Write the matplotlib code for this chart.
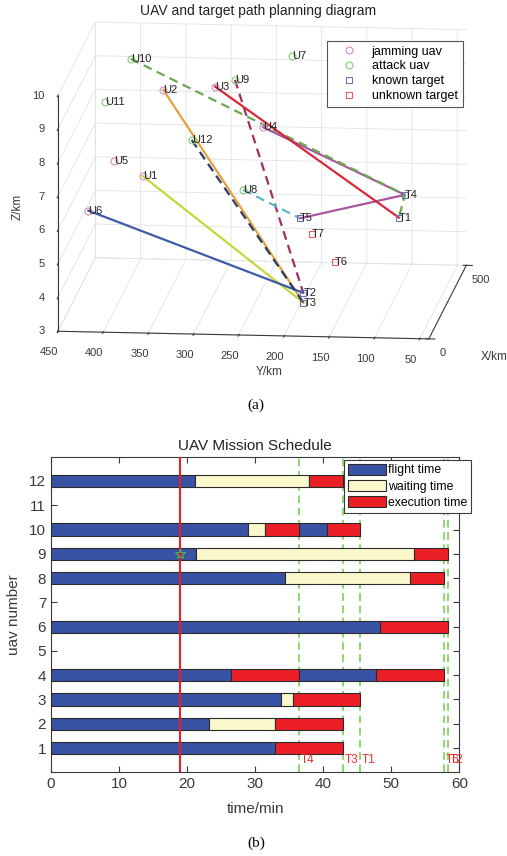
import numpy as np
import matplotlib
matplotlib.use('Agg')
import matplotlib.pyplot as plt
from matplotlib.patches import Patch
from matplotlib.lines import Line2D
from mpl_toolkits.mplot3d import proj3d

plt.rcParams['font.family'] = ['Liberation Sans', 'DejaVu Sans']
plt.rcParams['grid.color'] = '#e3e3e3'
plt.rcParams['grid.linewidth'] = 0.6

# ---------------- data: 3D path planning ----------------
uav_names = ['U1', 'U2', 'U3', 'U4', 'U5', 'U6', 'U7', 'U8', 'U9', 'U10', 'U11', 'U12']
uav_x = [150, 300, 300, 200, 200, 100, 450, 200, 350, 450, 400, 200]
uav_y = [368.7, 358.3, 301.2, 239.6, 404.2, 424.6, 228.9, 261.7, 283.3, 406.8, 431.0, 318.7]
uav_z = [7.00, 8.91, 9.04, 8.30, 7.22, 6.16, 9.33, 6.43, 9.03, 9.15, 8.06, 7.88]
uav_role = ['jamming'] * 6 + ['attack'] * 6

tgt_names = ['T1', 'T2', 'T3', 'T4', 'T5', 'T6', 'T7']
tgt_x = [250, 50, 50, 300, 250, 300, 250]
tgt_y = [93.8, 182.9, 182.9, 91.3, 203.1, 168.6, 190.2]
tgt_z = [5.48, 4.07, 3.78, 5.94, 5.40, 3.91, 4.94]
tgt_known = [True, True, True, True, True, False, False]

path_uav = ['U1', 'U2', 'U6', 'U12', 'U9', 'U8', 'U4', 'U10', 'U3']
path_route = [['T3'], ['T3'], ['T2'], ['T3'], ['T2'], ['T5'], ['T4', 'T5'], ['T4', 'T1'], ['T1']]
path_color = ['#c4d83a', '#e3a23c', '#3d5ba6', '#2a3b68', '#a03060', '#5cb6cc',
              '#a9579f', '#6aa852', '#d8283c']
path_style = ['-', '-', '-', '--', '--', '--', '-', '--', '-']

x_ticks = [0, 500]
y_ticks = [50, 100, 150, 200, 250, 300, 350, 400, 450]
z_ticks = [3, 4, 5, 6, 7, 8, 9, 10]

# ---------------- data: mission schedule ----------------
seg_row = [1, 1,
           2, 2, 2,
           3, 3, 3,
           4, 4, 4, 4,
           6, 6,
           8, 8, 8,
           9, 9, 9,
           10, 10, 10, 10, 10,
           12, 12, 12]
seg_start = [0, 32.9,
             0, 23.2, 32.9,
             0, 33.8, 35.5,
             0, 26.5, 36.5, 47.7,
             0, 48.4,
             0, 34.4, 52.7,
             0, 21.25, 53.4,
             0, 28.9, 31.5, 36.5, 40.5,
             0, 21.2, 37.9]
seg_end = [32.9, 42.85,
           23.2, 32.9, 42.9,
           33.8, 35.5, 45.4,
           26.5, 36.5, 47.7, 57.7,
           48.4, 58.35,
           34.4, 52.7, 57.7,
           21.25, 53.4, 58.35,
           28.9, 31.5, 36.5, 40.5, 45.4,
           21.2, 37.9, 42.9]
seg_kind = ['f', 'e',
            'f', 'w', 'e',
            'f', 'w', 'e',
            'f', 'e', 'f', 'e',
            'f', 'e',
            'f', 'w', 'e',
            'f', 'w', 'e',
            'f', 'w', 'e', 'f', 'e',
            'f', 'w', 'e']
task_names = ['T4', 'T3', 'T1', 'T6', 'T2']
task_times = [36.5, 42.9, 45.45, 57.7, 58.35]
current_time = 19.0
star_row = 9
kind_label = {'f': 'flight time', 'w': 'waiting time', 'e': 'execution time'}
kind_color = {'f': '#3953a4', 'w': '#fbf8cc', 'e': '#ec1f27'}

W, H = 507, 856
fig = plt.figure(figsize=(W / 100, H / 100), dpi=100)
txt_col = '#3a3a3a'

# ================= (a) 3D plot =================
ax = fig.add_axes([0.05, 0.55, 0.9, 0.45], projection='3d')
ax.set_proj_type('ortho')
ax.set_box_aspect((368.5, 372.9, 240.6))
ax.view_init(elev=11.57, azim=185.84)
ax.computed_zorder = False
ax.set_xlim(0, 500)
ax.set_ylim(40, 450)
ax.set_zlim(3, 10)
ax.set_xticks(x_ticks)
ax.set_yticks(y_ticks)
ax.set_zticks(z_ticks)
ax.set_yticklabels([])
ax.set_zticklabels([])
for a in (ax.xaxis, ax.yaxis, ax.zaxis):
    a.set_pane_color((1, 1, 1, 0))
    a.pane.set_edgecolor('#d9d9d9')
    a.line.set_color(txt_col)
    a.line.set_linewidth(0.8)
ax.tick_params(labelsize=8, colors=txt_col)
ax.tick_params(axis='x', pad=0)

upos = {n: (x, y, z) for n, x, y, z in zip(uav_names, uav_x, uav_y, uav_z)}
tpos = {n: (x, y, z) for n, x, y, z in zip(tgt_names, tgt_x, tgt_y, tgt_z)}

for u, route, c, ls in zip(path_uav, path_route, path_color, path_style):
    pts = [upos[u]] + [tpos[t] for t in route]
    xs, ys, zs = zip(*pts)
    ax.plot(xs, ys, zs, color=c, linestyle=ls, linewidth=1.6,
            dashes=(4, 2.5) if ls == '--' else (None, None))

role_color = {'jamming': '#d58cc4', 'attack': '#86c979'}
for n, r in zip(uav_names, uav_role):
    x, y, z = upos[n]
    ax.plot([x], [y], [z], marker='o', markersize=5, markerfacecolor='none',
            markeredgecolor=role_color[r], markeredgewidth=0.8, linestyle='none')
for n, k in zip(tgt_names, tgt_known):
    x, y, z = tpos[n]
    ax.plot([x], [y], [z], marker='s', markersize=4.5, markerfacecolor='none',
            markeredgecolor='#6674b4' if k else '#e0605c', markeredgewidth=0.8,
            linestyle='none')

fig.text(258 / W, 1 - 11 / H, 'UAV and target path planning diagram',
         fontsize=10, color='#222222', ha='center', va='center')
fig.text(18 / W, 1 - 207 / H, 'Z/km', fontsize=8.5, color=txt_col, rotation=90,
         ha='center', va='center')
fig.text(269 / W, 1 - 372 / H, 'Y/km', fontsize=8.5, color=txt_col,
         ha='center', va='center')
fig.text(481 / W, 1 - 357 / H, 'X/km', fontsize=8.5, color=txt_col,
         ha='left', va='center')

leg_handles = [
    Line2D([], [], marker='o', ls='none', mfc='none', mec=role_color['jamming'], ms=5, mew=0.8),
    Line2D([], [], marker='o', ls='none', mfc='none', mec=role_color['attack'], ms=5, mew=0.8),
    Line2D([], [], marker='s', ls='none', mfc='none', mec='#6674b4', ms=4.5, mew=0.8),
    Line2D([], [], marker='s', ls='none', mfc='none', mec='#e0605c', ms=4.5, mew=0.8),
]
leg1 = fig.legend(leg_handles, ['jamming uav', 'attack uav', 'known target', 'unknown target'],
                  loc='upper left', bbox_to_anchor=(326.7 / W, 1 - 40.7 / H),
                  fontsize=9, frameon=True, fancybox=False, edgecolor='#555555',
                  framealpha=1, borderpad=0.4, labelspacing=0.22, handlelength=2.8,
                  handletextpad=0.4, borderaxespad=0)
leg1.get_frame().set_linewidth(0.8)

# fit the projected box to the reference geometry
tA = np.array([57.85, H - 331.2])   # (X=0, Y=450, Z=3)
tB = np.array([466.35, H - 29.75])  # (X=500, Y=40, Z=10)


def disp(p):
    xs, ys, _ = proj3d.proj_transform(p[0], p[1], p[2], ax.get_proj())
    return ax.transData.transform((xs, ys))


for _ in range(3):
    fig.canvas.draw()
    dA = disp((0, 450, 3))
    dB = disp((500, 40, 10))
    f = np.linalg.norm(tB - tA) / np.linalg.norm(dB - dA)
    bb = ax.get_position().transformed(fig.transFigure)
    c = np.array([(bb.x0 + bb.x1) / 2, (bb.y0 + bb.y1) / 2])
    mid_t = (tA + tB) / 2
    mid_d = (dA + dB) / 2
    cn = mid_t - (mid_d - c) * f
    wn, hn = bb.width * f, bb.height * f
    ax.set_position([(cn[0] - wn / 2) / W, (cn[1] - hn / 2) / H, wn / W, hn / H])
fig.canvas.draw()

# tick labels of Z (left edge) and Y (front edge), MATLAB-like placement
for zt in z_ticks:
    d = disp((0, 450, zt))
    fig.text((d[0] - 13) / W, d[1] / H, str(zt), fontsize=8, color=txt_col,
             ha='right', va='center')
for yt in y_ticks:
    d = disp((0, yt, 3))
    fig.text((d[0] - 9) / W, (d[1] - 21) / H, str(yt), fontsize=8, color=txt_col,
             ha='center', va='center')

# point labels placed at the projected data positions
for n in uav_names:
    d = disp(upos[n])
    fig.text(d[0] / W, d[1] / H, n, fontsize=8, color='#222222', ha='left', va='center')
for n in tgt_names:
    d = disp(tpos[n])
    fig.text(d[0] / W, d[1] / H, n, fontsize=8, color='#222222', ha='left', va='center')

fig.text(256 / W, 1 - 405 / H, '(a)', fontsize=11, family='Liberation Serif',
         ha='center', va='center')

# ================= (b) mission schedule =================
ax2 = fig.add_axes([51 / W, 1 - 772.3 / H, (459.3 - 51) / W, (772.3 - 456.7) / H])
for k in ['f', 'w', 'e']:
    idx = [i for i, s in enumerate(seg_kind) if s == k]
    ax2.barh([seg_row[i] for i in idx], [seg_end[i] - seg_start[i] for i in idx],
             left=[seg_start[i] for i in idx], height=0.5, color=kind_color[k],
             edgecolor='#2b2b2b', linewidth=0.8, zorder=3)
for name, t in zip(task_names, task_times):
    ax2.axvline(t, color='#6ccf45', linestyle=(0, (5, 3)), linewidth=1.1, zorder=2)
    ax2.text(t + 0.25, 0.5, name, color='#ee2b2b', fontsize=8.5, ha='left', va='center', zorder=5)
ax2.axvline(current_time, color='#ee1c24', linewidth=1.5, zorder=4)
ax2.plot([current_time], [star_row], marker='*', markersize=7, mfc='none', mec='#4cb848',
         mew=0.8, zorder=5)
ax2.set_xlim(0, 60)
ax2.set_ylim(0, 13)
ax2.set_xticks(np.arange(0, 61, 10))
ax2.set_yticks(np.arange(1, 13))
ax2.tick_params(direction='in', top=True, right=True, labelsize=11, colors=txt_col,
                length=4, width=0.8)
for s in ax2.spines.values():
    s.set_color(txt_col)
    s.set_linewidth(0.8)
ax2.set_xlabel('time/min', fontsize=11, color=txt_col, labelpad=8)
ax2.set_ylabel('uav number', fontsize=11, color=txt_col, labelpad=6)
ax2.set_title('UAV Mission Schedule', fontsize=11, color='#222222', pad=5)
leg2 = ax2.legend([Patch(facecolor=kind_color[k], edgecolor='#2b2b2b', linewidth=0.8)
                   for k in ['f', 'w', 'e']],
                  [kind_label[k] for k in ['f', 'w', 'e']],
                  loc='upper left', bbox_to_anchor=(344 / W, 1 - 460 / H),
                  bbox_transform=fig.transFigure, fontsize=8.8, frameon=True,
                  fancybox=False, edgecolor=txt_col, framealpha=1, borderpad=0.3,
                  labelspacing=0.3, handlelength=3.1, handleheight=1.0,
                  handletextpad=0.2, borderaxespad=0)
leg2.get_frame().set_linewidth(0.8)
leg2.set_zorder(10)

fig.text(256 / W, 1 - 843 / H, '(b)', fontsize=11, family='Liberation Serif',
         ha='center', va='center')

fig.savefig('out.png', dpi=100)
